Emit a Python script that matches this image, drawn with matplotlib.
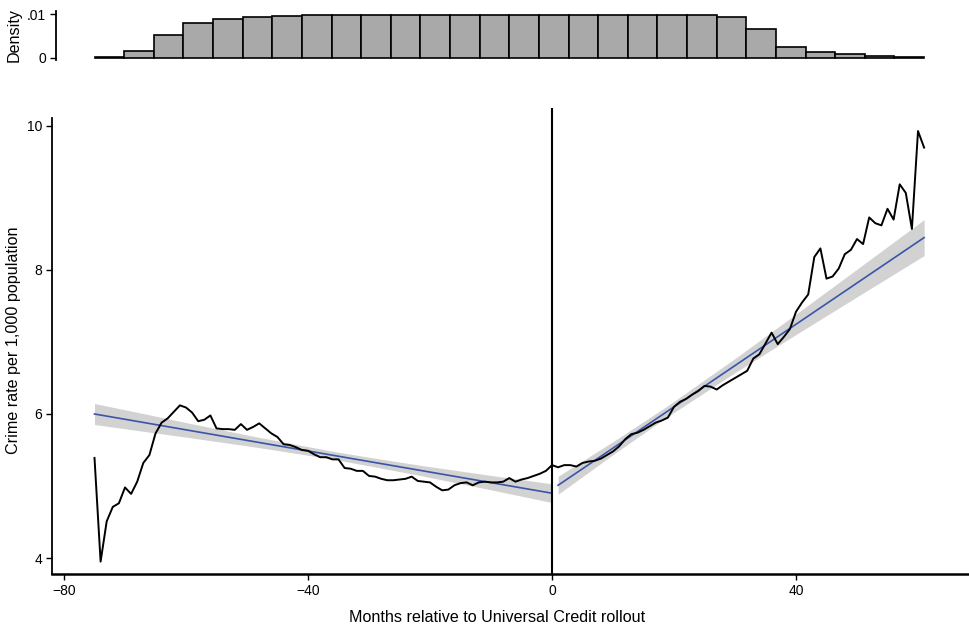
import numpy as np
import matplotlib
matplotlib.use("Agg")
import matplotlib.pyplot as plt

plt.rcParams['font.family'] = ['Liberation Sans', 'DejaVu Sans']

# ---------------- data ----------------
month_start = -75
crime_rate = [
    # -75 .. -66
    5.39, 3.95, 4.51, 4.71, 4.76, 4.98, 4.89, 5.06, 5.32, 5.43,
    # -65 .. -56
    5.73, 5.88, 5.94, 6.03, 6.12, 6.09, 6.02, 5.90, 5.92, 5.98,
    # -55 .. -46
    5.80, 5.79, 5.79, 5.78, 5.86, 5.78, 5.82, 5.87, 5.80, 5.73,
    # -45 .. -36
    5.68, 5.58, 5.57, 5.54, 5.50, 5.49, 5.44, 5.40, 5.40, 5.37,
    # -35 .. -26
    5.37, 5.25, 5.24, 5.21, 5.21, 5.14, 5.13, 5.10, 5.08, 5.08,
    # -25 .. -16
    5.09, 5.10, 5.13, 5.07, 5.06, 5.05, 4.99, 4.94, 4.95, 5.01,
    # -15 .. -6
    5.04, 5.05, 5.01, 5.05, 5.06, 5.05, 5.05, 5.06, 5.11, 5.06,
    # -5 .. 4
    5.09, 5.11, 5.14, 5.17, 5.21, 5.29, 5.26, 5.29, 5.29, 5.27,
    # 5 .. 14
    5.32, 5.34, 5.35, 5.38, 5.43, 5.48, 5.55, 5.65, 5.72, 5.74,
    # 15 .. 24
    5.78, 5.83, 5.88, 5.91, 5.95, 6.10, 6.17, 6.21, 6.27, 6.32,
    # 25 .. 34
    6.39, 6.38, 6.34, 6.40, 6.45, 6.50, 6.55, 6.60, 6.77, 6.83,
    # 35 .. 44
    6.98, 7.13, 6.97, 7.07, 7.18, 7.42, 7.55, 7.66, 8.18, 8.30,
    # 45 .. 54
    7.88, 7.91, 8.02, 8.22, 8.28, 8.43, 8.36, 8.73, 8.65, 8.62,
    # 55 .. 61
    8.85, 8.70, 9.19, 9.07, 8.57, 9.93, 9.70,
]
months = np.arange(month_start, month_start + len(crime_rate))

# linear fits (endpoints)
fit_left_x = [-75, 0]
fit_left_y = [6.00, 4.90]
fit_right_x = [1, 61]
fit_right_y = [5.01, 8.45]

# confidence band half-widths
ci_left_x = [-75, -67, -60, -49.5, -42, -35, -28, -21.6, -10, 0]
ci_left_h = [0.146, 0.123, 0.101, 0.074, 0.062, 0.055, 0.062, 0.071, 0.100, 0.130]
ci_right_x = [1, 10, 18.7, 30, 40, 50, 61]
ci_right_h = [0.125, 0.090, 0.075, 0.098, 0.142, 0.192, 0.250]

# histogram of observations by month
hist_lo, hist_hi = -75, 61
hist_density = [0.0001, 0.0015, 0.0052, 0.0080, 0.00885, 0.0092, 0.0096,
                0.0098, 0.0098, 0.0098, 0.0098, 0.0098, 0.0098, 0.0098,
                0.0098, 0.0098, 0.0098, 0.0098, 0.0098, 0.0098, 0.0098,
                0.0094, 0.0065, 0.0025, 0.0012, 0.00084, 0.0004, 0.0001]

x_ticks = [-80, -40, 0, 40]
y_ticks = [4, 6, 8, 10]

# ---------------- layout ----------------
W, H = 969, 628
fig = plt.figure(figsize=(W / 100, H / 100), dpi=100)

px_per_month = 6.1
px_zero = 552.0
def px_to_month(px):
    return (px - px_zero) / px_per_month

px_per_unit = 72.0
py_ten = 126.0
def py_to_val(py):
    return 10 - (py - py_ten) / px_per_unit

main_l, main_r, main_t, main_b = 52, 969, 108, 574
ax = fig.add_axes([main_l / W, 1 - main_b / H, (main_r - main_l) / W, (main_b - main_t) / H])
ax.set_xlim(px_to_month(main_l), px_to_month(main_r))
ax.set_ylim(py_to_val(main_b), py_to_val(main_t))

band_col = '#d2d2d2'
fit_col = '#3a55a8'

xl = np.linspace(fit_left_x[0], fit_left_x[1], 200)
yl = np.interp(xl, fit_left_x, fit_left_y)
hl = np.interp(xl, ci_left_x, ci_left_h)
ax.fill_between(xl, yl - hl, yl + hl, color=band_col, lw=0, zorder=1)
ax.plot(fit_left_x, fit_left_y, color=fit_col, lw=1.2, zorder=2)

xr = np.linspace(fit_right_x[0], fit_right_x[1], 200)
yr = np.interp(xr, fit_right_x, fit_right_y)
hr = np.interp(xr, ci_right_x, ci_right_h)
ax.fill_between(xr, yr - hr, yr + hr, color=band_col, lw=0, zorder=1)
ax.plot(fit_right_x, fit_right_y, color=fit_col, lw=1.2, zorder=2)

ax.plot(months, crime_rate, color='black', lw=1.4, zorder=3)
ax.axvline(0, color='black', lw=1.5, zorder=4)

for s in ['top', 'right']:
    ax.spines[s].set_visible(False)
ax.spines['left'].set_linewidth(1.3)
ax.spines['bottom'].set_linewidth(1.8)
ax.spines['left'].set_bounds(py_to_val(main_b), py_to_val(118))
ax.set_xticks(x_ticks)
ax.set_yticks(y_ticks)
ax.set_yticklabels([str(v) for v in y_ticks])
ax.tick_params(direction='out', length=4, width=1, labelsize=10, colors='black', pad=3)

fig.text(497 / W, 1 - 617 / H, 'Months relative to Universal Credit rollout',
         ha='center', va='center', fontsize=11.6)
fig.text(14 / W, 1 - 340 / H, 'Crime rate per 1,000 population',
         ha='center', va='center', rotation=90, fontsize=11.6)

# histogram panel
hist_l, hist_t, hist_b = 55.5, 11, 59.5
d_per_px = 0.01 / 43.7
axh = fig.add_axes([hist_l / W, 1 - hist_b / H, (main_r - hist_l) / W, (hist_b - hist_t) / H])
axh.set_xlim(px_to_month(hist_l), px_to_month(main_r))
axh.set_ylim(-(hist_b - 57.7) * d_per_px, (57.7 - hist_t) * d_per_px)
nb = len(hist_density)
edges = np.linspace(hist_lo, hist_hi, nb + 1)
axh.bar(edges[:-1], hist_density, width=np.diff(edges), align='edge',
        color='#a9a9a9', edgecolor='black', linewidth=1.2)
for s in ['top', 'right', 'bottom']:
    axh.spines[s].set_visible(False)
axh.spines['left'].set_linewidth(1.3)
axh.set_xticks([])
axh.set_yticks([0, 0.01])
axh.set_yticklabels(['0', '.01'])
axh.tick_params(direction='out', length=4, width=1, labelsize=10, colors='black', pad=3)
fig.text(14 / W, 1 - 35 / H, 'Density', ha='center', va='center', rotation=90, fontsize=11.6)

fig.savefig('out.png', dpi=100)
